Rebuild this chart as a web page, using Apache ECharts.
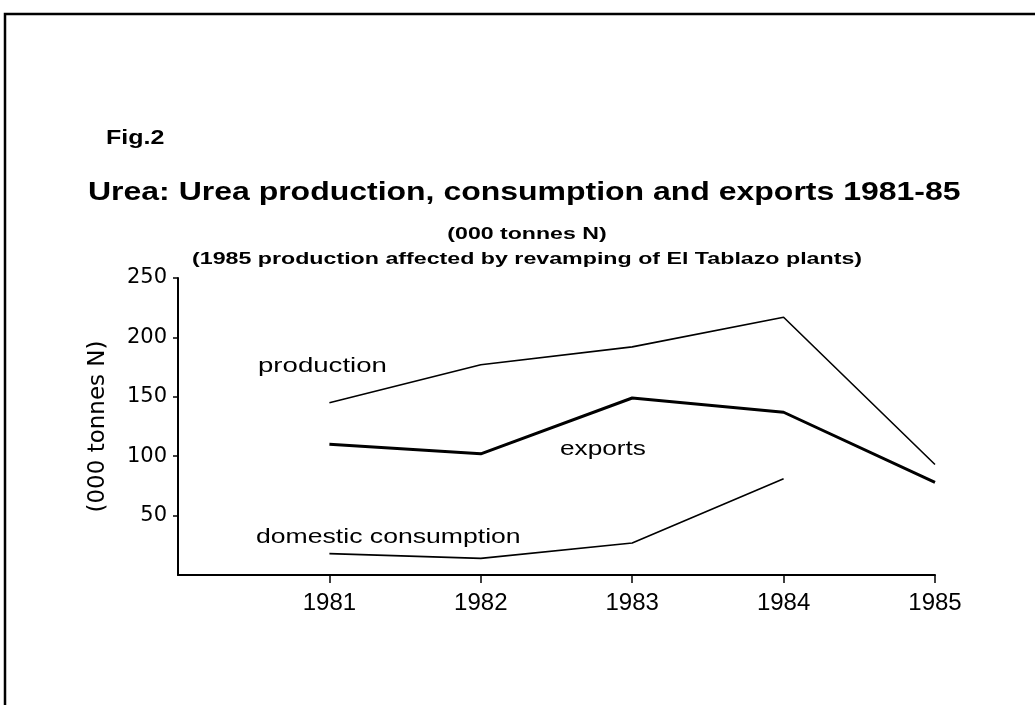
<!DOCTYPE html>
<html><head><meta charset="utf-8">
<script src="https://cdn.jsdelivr.net/npm/echarts@6/dist/echarts.min.js"></script>
<style>html,body{margin:0;padding:0;background:#fff}#c{width:1035px;height:705px}</style>
</head><body><div id="c"></div>
<script>
const years = [1981, 1982, 1983, 1984, 1985];
const production = [145, 177, 192, 217, 93];
const exportsVals = [110, 102, 149, 137, 78];
const domestic = [18, 14, 27, 81];
const yTicks = [50, 100, 150, 200, 250];

const F = '"Liberation Sans", Arial, sans-serif';
const D = '"DejaVu Sans", sans-serif';
function txt(x, y, text, font, sx, align) {
  return {type: 'text', x: x, y: y, scaleX: sx, silent: true,
    style: {x: 0, y: 0, text: text, font: font, fill: '#000', align: align || 'left', verticalAlign: 'middle'}};
}
const chart = echarts.init(document.getElementById('c'));
chart.setOption({
  backgroundColor: '#fff',
  animation: false,
  grid: {left: 178, right: 100, top: 278, bottom: 130},
  xAxis: {
    type: 'value', min: 1980, max: 1985, interval: 1,
    axisLine: {show: true, lineStyle: {color: '#000', width: 2}},
    axisTick: {show: true, inside: false, length: 8, lineStyle: {color: '#000', width: 1.5},
      customValues: years},
    axisLabel: {color: '#000', fontSize: 24, fontFamily: F, margin: 16,
      customValues: years, formatter: v => String(v)},
    splitLine: {show: false}
  },
  yAxis: {
    type: 'value', min: 0, max: 250, interval: 50,
    name: '(000 tonnes N)', nameLocation: 'middle', nameGap: 68, nameRotate: 90,
    nameTextStyle: {color: '#000', fontSize: 23, fontFamily: D},
    axisLine: {show: true, lineStyle: {color: '#000', width: 2}},
    axisTick: {show: true, length: 5, lineStyle: {color: '#000', width: 1.5}, customValues: yTicks},
    axisLabel: {color: '#000', fontSize: 21, fontFamily: D, margin: 11, customValues: yTicks},
    splitLine: {show: false}
  },
  series: [
    {name: 'production', type: 'line', data: years.map((y, i) => [y, production[i]]),
      symbol: 'none', lineStyle: {color: '#000', width: 1.6}},
    {name: 'exports', type: 'line', data: years.map((y, i) => [y, exportsVals[i]]),
      symbol: 'none', lineStyle: {color: '#000', width: 3}},
    {name: 'domestic consumption', type: 'line', data: domestic.map((v, i) => [years[i], v]),
      symbol: 'none', lineStyle: {color: '#000', width: 1.6}}
  ],
  graphic: [
    {type: 'rect', shape: {x: 5, y: 14, width: 1100, height: 760}, style: {fill: 'none', stroke: '#000', lineWidth: 2.5}, silent: true},
    txt(106, 138, 'Fig.2', 'bold 20px ' + F, 1.25),
    txt(88, 193, 'Urea: Urea production, consumption and exports 1981-85', 'bold 26px ' + F, 1.23),
    txt(527, 234, '(000 tonnes N)', 'bold 17px ' + F, 1.36, 'center'),
    txt(192, 259, '(1985 production affected by revamping of El Tablazo plants)', 'bold 17px ' + F, 1.365),
    txt(258, 366, 'production', '20px ' + F, 1.38),
    txt(560, 449, 'exports', '20px ' + F, 1.31),
    txt(256, 537, 'domestic consumption', '20px ' + F, 1.33)
  ]
});
</script></body></html>
